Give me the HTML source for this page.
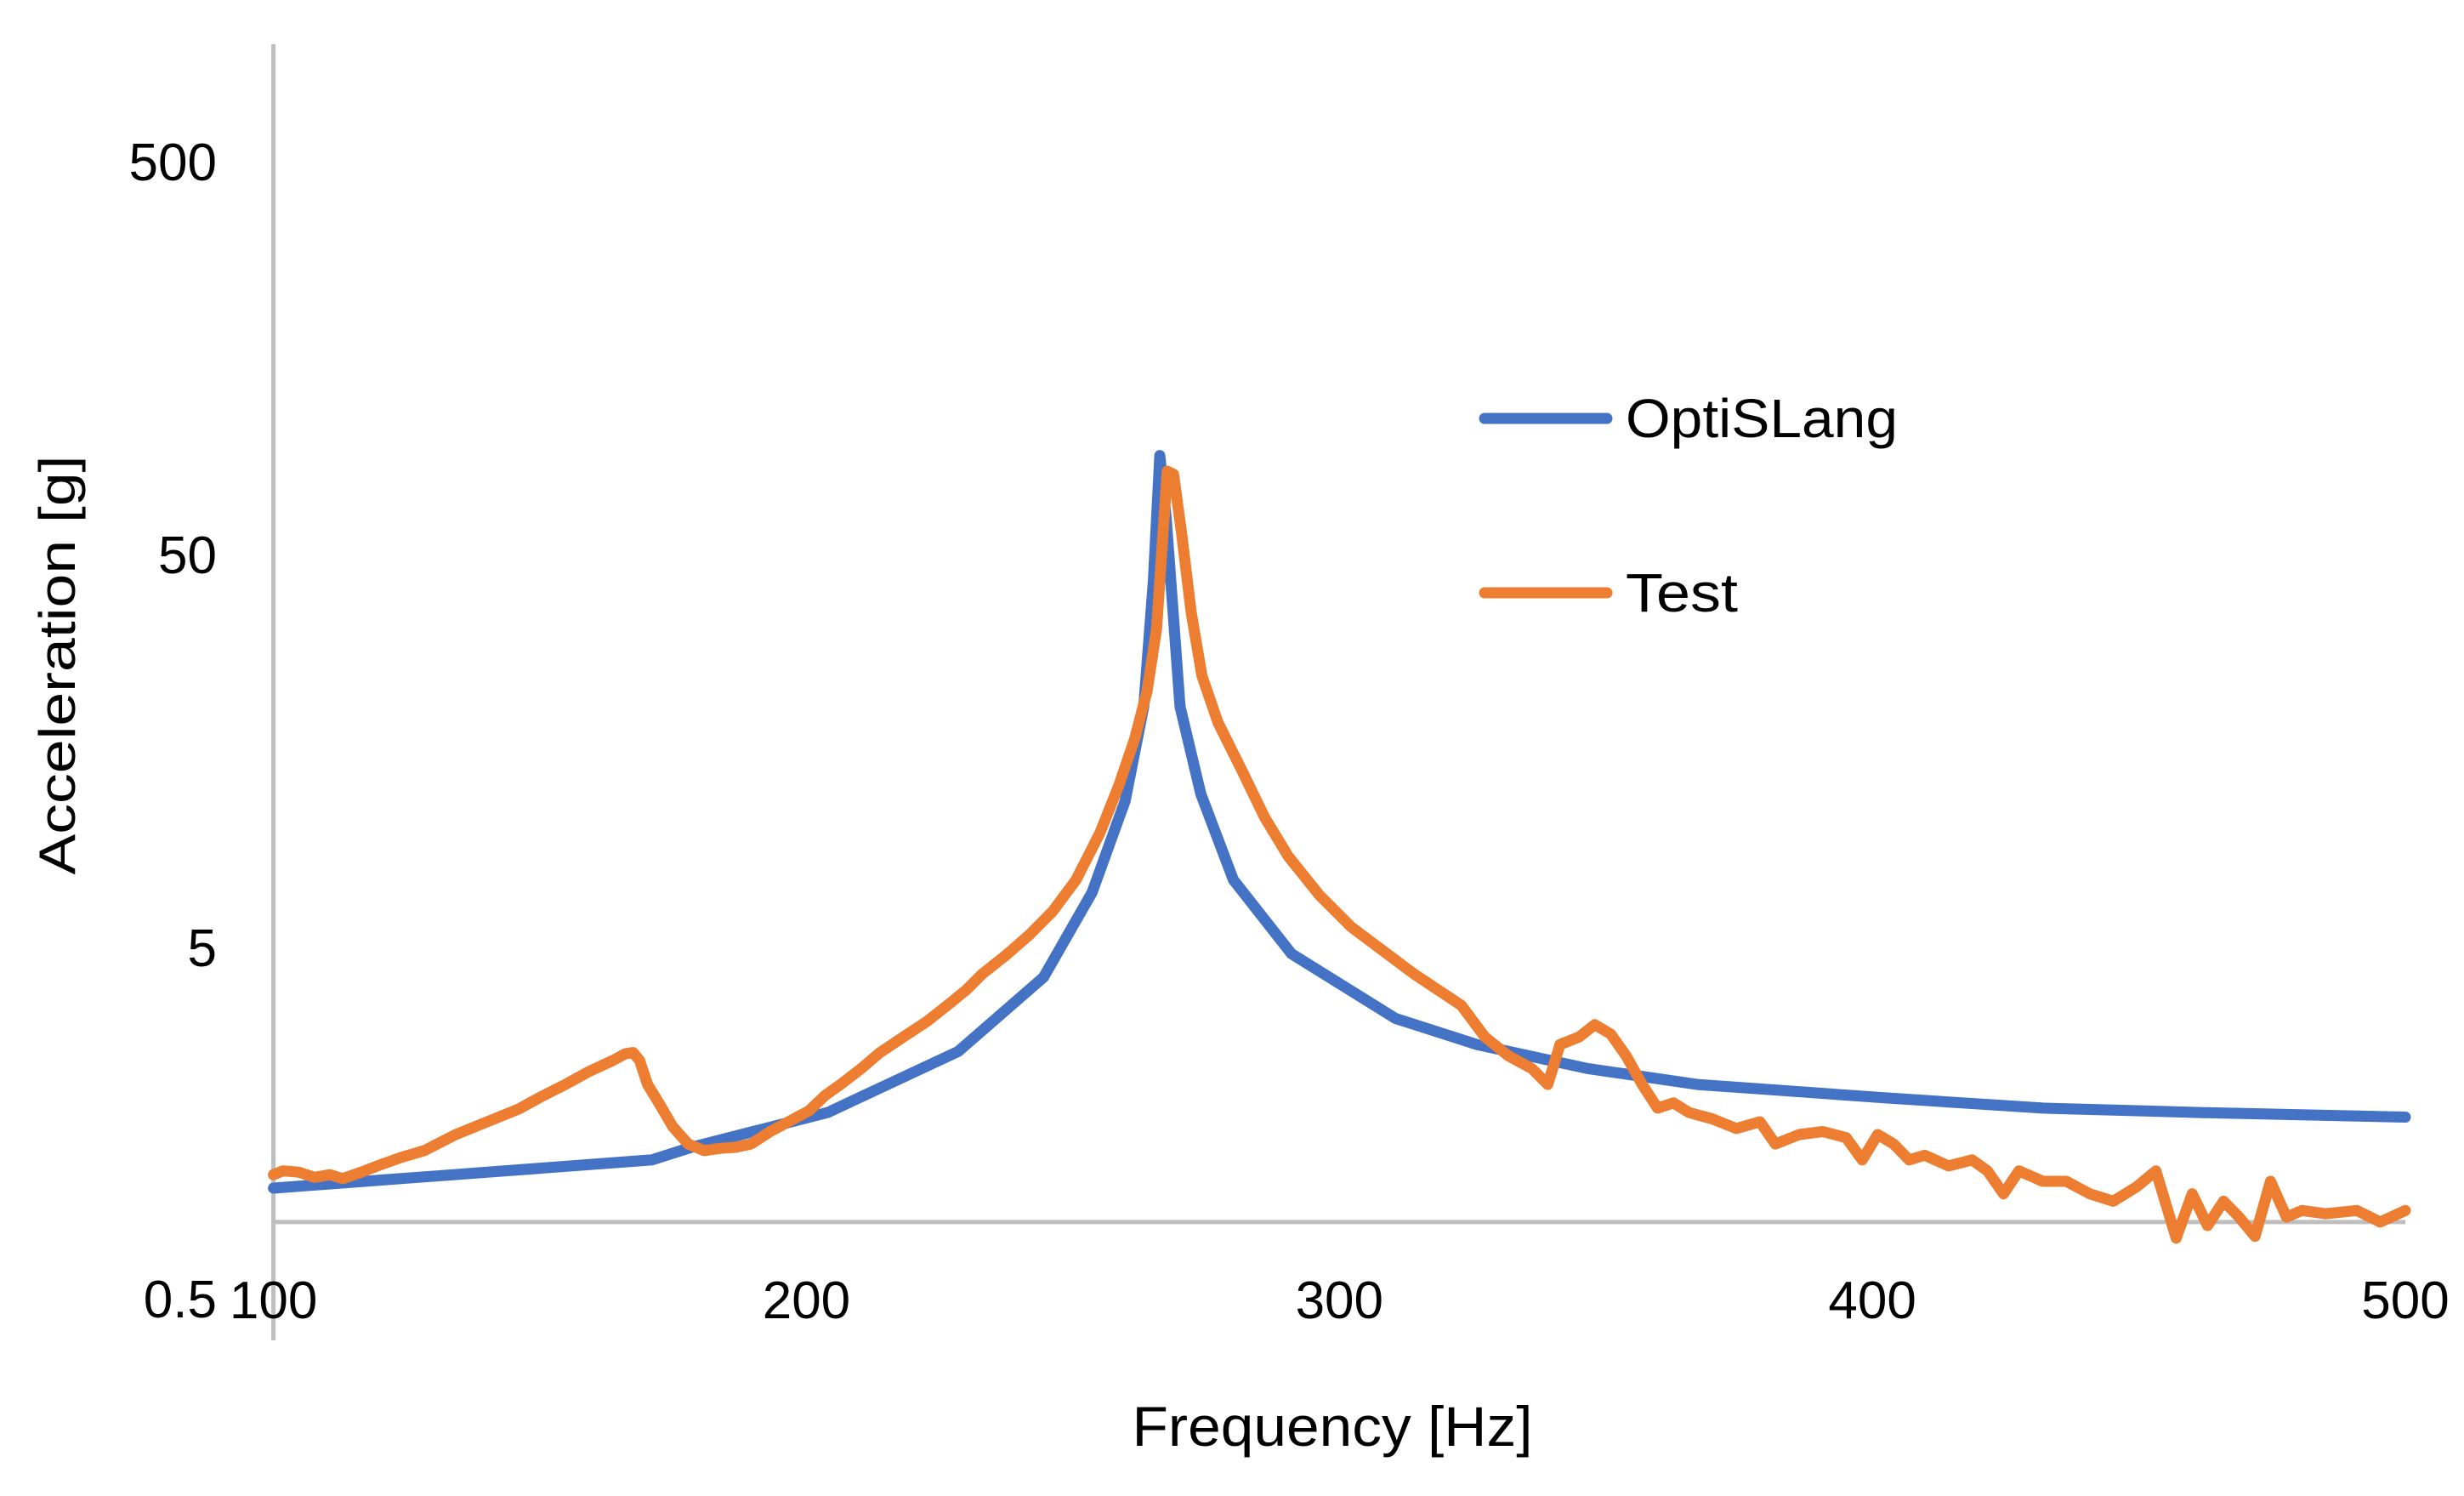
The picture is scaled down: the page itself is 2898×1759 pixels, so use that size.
<!DOCTYPE html>
<html>
<head>
<meta charset="utf-8">
<style>
  html,body{margin:0;padding:0;background:#fff;}
  svg{display:block;}
  text{font-family:"Liberation Sans",sans-serif;fill:#000;}
</style>
</head>
<body>
<svg id="chart" width="2898" height="1759" viewBox="0 0 2898 1759" xmlns="http://www.w3.org/2000/svg">
  <rect x="0" y="0" width="2898" height="1759" fill="#ffffff"/>
  <g id="axes"></g>
  <g id="series"></g>
  <g id="legend">
    <line x1="1746" y1="492" x2="1890" y2="492" stroke="#4472C4" stroke-width="13" stroke-linecap="round"/>
    <text x="1912" y="514" font-size="64" textLength="320" lengthAdjust="spacingAndGlyphs">OptiSLang</text>
    <line x1="1746" y1="697" x2="1890" y2="697" stroke="#ED7D31" stroke-width="13" stroke-linecap="round"/>
    <text x="1912" y="719" font-size="64" textLength="132" lengthAdjust="spacingAndGlyphs">Test</text>
  </g>
  <text x="1567" y="1700" font-size="66" text-anchor="middle" textLength="471" lengthAdjust="spacingAndGlyphs">Frequency [Hz]</text>
  <text x="0" y="0" font-size="60" text-anchor="middle" transform="translate(88,782) rotate(-90)" textLength="493" lengthAdjust="spacingAndGlyphs">Acceleration [g]</text>
</svg>
<script>
// ---- data ----
const xTicks = [100, 200, 300, 400, 500];
const yTicks = [500, 50, 5, 0.5];
const optiFreq = [100,171,178.4,204,228.5,244.5,253.6,259.8,263.3,265.1,266.3,267.5,270.1,274,280.1,291,310.5,325.8,346.5,367.1,402.5,432,461.4,500];
const optiVal  = [1.22,1.44,1.55,1.90,2.72,4.20,6.9,11.8,20.5,42.8,89.3,61.8,20.5,12.3,7.43,4.82,3.30,2.83,2.46,2.24,2.07,1.95,1.90,1.85];
const testFreq = [100,101.8,104.7,107.7,110.6,113,116.5,119.5,123.9,128.3,134.2,140.1,146,150.4,154.8,159.3,163.7,166,167.5,168.7,170.2,172.5,174.9,177.8,180.8,183.7,186.7,189.6,193.2,197.6,200.5,203.5,206.4,210.3,213.8,218.2,222.6,227.1,230,233,237.4,241.8,246.2,250.6,255.1,258.6,261.6,263.9,265.7,266.9,267.7,268.9,270.4,272.2,274.2,277.2,281.6,286,290.4,296.3,302.2,308.1,314,318.5,322.9,327.3,331.7,336.1,339.1,341.4,345,347.9,350.9,353.8,356.8,359.7,362.7,365.6,370,374.5,378.9,381.8,386.3,390.7,395.1,398.1,401,404,406.9,409.8,414.3,418.7,421.6,424.6,427.5,432,436.4,440.8,445.2,449.6,453.2,457,460,462.9,465.9,468.8,471.8,474.7,477.7,480.6,485,490.9,495.3,500];
const testVal  = [1.32,1.35,1.34,1.30,1.32,1.29,1.34,1.39,1.46,1.52,1.67,1.80,1.94,2.09,2.24,2.42,2.58,2.68,2.70,2.58,2.24,1.99,1.75,1.58,1.52,1.54,1.55,1.58,1.70,1.83,1.92,2.10,2.24,2.46,2.70,2.96,3.24,3.62,3.90,4.28,4.77,5.38,6.18,7.43,9.80,12.9,17.0,22.4,32.4,56.4,81.5,80.0,56.4,35.6,24.6,18.7,14.2,10.7,8.53,6.78,5.64,4.91,4.28,3.90,3.56,2.96,2.65,2.46,2.24,2.83,2.96,3.18,3.01,2.65,2.24,1.95,2.01,1.90,1.83,1.73,1.80,1.58,1.67,1.70,1.64,1.44,1.67,1.58,1.44,1.48,1.39,1.44,1.35,1.18,1.35,1.27,1.27,1.18,1.13,1.23,1.35,0.91,1.18,0.98,1.13,1.03,0.92,1.27,1.03,1.07,1.05,1.07,1.00,1.07];

// ---- axis functions ----
const X0 = 321.6, X1 = 2829, F0 = 100, F1 = 500;
function xScale(f){ return X0 + (f - F0) / (F1 - F0) * (X1 - X0); }
const Y5 = 1114, DECADE = 462;
function yScale(v){ return Y5 - DECADE * Math.log10(v / 5); }

const NS = "http://www.w3.org/2000/svg";
const axes = document.getElementById('axes');
const series = document.getElementById('series');

const yAxis = document.createElementNS(NS, 'line');


yAxis.setAttribute('x1', X0); yAxis.setAttribute('x2', X0);
yAxis.setAttribute('y1', 52); yAxis.setAttribute('y2', yScale(0.5));
yAxis.setAttribute('stroke', '#BFBFBF'); yAxis.setAttribute('stroke-width', '5');
axes.appendChild(yAxis);

const xAxis = document.createElementNS(NS, 'line');


xAxis.setAttribute('x1', X0 - 2); xAxis.setAttribute('x2', X1);
xAxis.setAttribute('y1', yScale(1)); xAxis.setAttribute('y2', yScale(1));
xAxis.setAttribute('stroke', '#BFBFBF'); xAxis.setAttribute('stroke-width', '5');
axes.appendChild(xAxis);

xTicks.forEach(function(t){
  const el = document.createElementNS(NS, 'text');
  
  
  el.setAttribute('x', xScale(t));
  el.setAttribute('y', 1550);
  el.setAttribute('font-size', '62');
  el.setAttribute('text-anchor', 'middle');
  el.textContent = String(t);
  axes.appendChild(el);
});

yTicks.forEach(function(t){
  const el = document.createElementNS(NS, 'text');
  
  
  el.setAttribute('x', 255);
  let yy = yScale(t) + 22;
  if (t === 0.5) yy = 1549;
  el.setAttribute('y', yy);
  el.setAttribute('font-size', '62');
  el.setAttribute('text-anchor', 'end');
  el.textContent = String(t);
  axes.appendChild(el);
});

function drawLine(fs, vs, color, name){
  let d = '';
  for (let i = 0; i < fs.length; i++){
    d += (i ? 'L' : 'M') + xScale(fs[i]).toFixed(1) + ',' + yScale(vs[i]).toFixed(1);
  }
  const p = document.createElementNS(NS, 'path');
  
  
  p.setAttribute('d', d);
  p.setAttribute('fill', 'none');
  p.setAttribute('stroke', color);
  p.setAttribute('stroke-width', '13');
  p.setAttribute('stroke-linejoin', 'round');
  p.setAttribute('stroke-linecap', 'round');
  series.appendChild(p);
}
drawLine(optiFreq, optiVal, '#4472C4', 'optislang-line');
drawLine(testFreq, testVal, '#ED7D31', 'test-line');
</script>
</body>
</html>
